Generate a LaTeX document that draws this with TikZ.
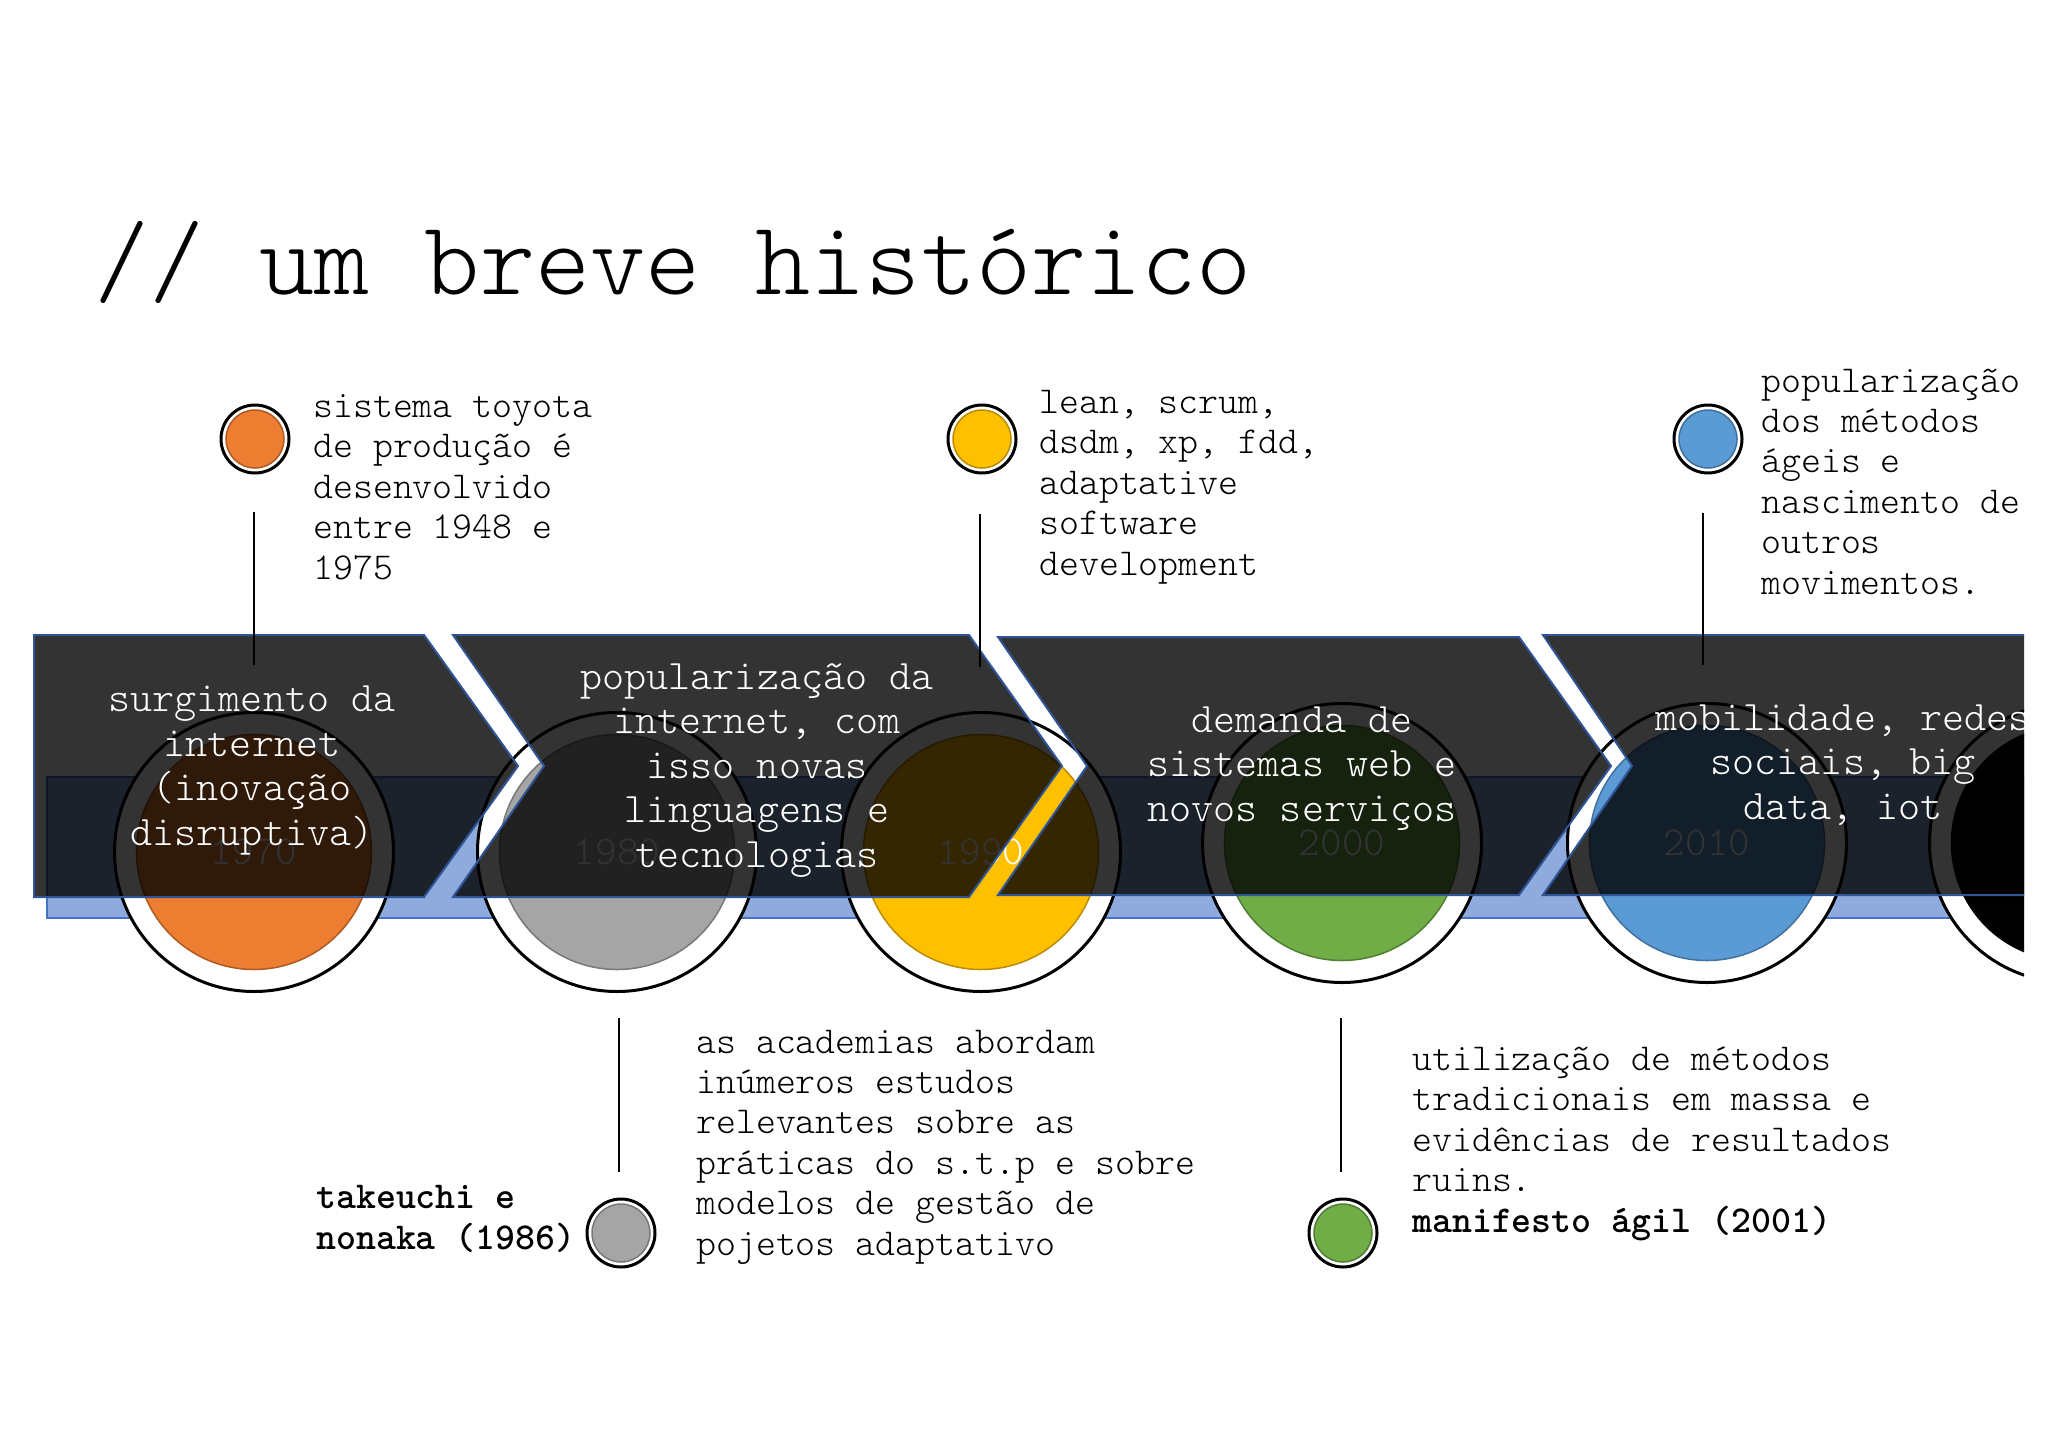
\documentclass[tikz,border=0pt]{standalone}
\usepackage{fontspec}
\newcommand{\titlefont}{\ttfamily\fontseries{l}\fontsize{105}{110}\selectfont}
\newcommand{\notefont}{\ttfamily\fontseries{l}\fontsize{38}{40.4}\selectfont}
\newcommand{\boldnotefont}{\ttfamily\bfseries\fontsize{38}{40.4}\selectfont}
\newcommand{\bannerfont}{\ttfamily\fontseries{l}\fontsize{42}{44.5}\selectfont}
\newcommand{\yearfont}{\ttfamily\fontseries{l}\fontsize{41}{44}\selectfont}
\definecolor{tOrange}{HTML}{ED7D31}\definecolor{tOrangeD}{HTML}{AE5A21}
\definecolor{tGray}{HTML}{A5A5A5}\definecolor{tGrayD}{HTML}{787878}
\definecolor{tYellow}{HTML}{FFC000}\definecolor{tYellowD}{HTML}{BC8C00}
\definecolor{tGreen}{HTML}{70AD47}\definecolor{tGreenD}{HTML}{507E32}
\definecolor{tBlue}{HTML}{5B9BD5}\definecolor{tBlueD}{HTML}{41719C}
\definecolor{bandfill}{HTML}{8FAADC}\definecolor{bandline}{HTML}{4472C4}
\definecolor{chevline}{HTML}{2F5597}
\begin{document}
\begin{tikzpicture}[x=1pt, y=-1pt,
  ring/.style={circle, draw=black, line width=3pt, fill=white, minimum size=279pt, inner sep=0pt},
  disc/.style={circle, line width=1.5pt, minimum size=235pt, inner sep=0pt, font=\yearfont, text=white},
  dotring/.style={circle, draw=black, line width=3pt, fill=white, minimum size=68pt, inner sep=0pt},
  dotfill/.style={circle, line width=1.5pt, minimum size=58pt, inner sep=0pt},
  chev/.style={fill=black, fill opacity=0.8, draw=chevline, line width=2pt},
  banner/.style={font=\bannerfont, text=white, align=center, inner sep=0pt, anchor=base},
  note/.style={font=\notefont, align=left, inner sep=0pt, anchor=base west},
  stem/.style={line width=2.5pt}]
\useasboundingbox (0,0) rectangle (2048,1448);
\fill[white] (0,0) rectangle (2048,1448);
\node[font=\titlefont, anchor=base west, inner sep=0pt] (title) at (94,294) {// um breve histórico};

\begin{scope}
\clip (0,0) rectangle (2024,1448);
\draw[fill=bandfill, draw=bandline, line width=2pt] (47,777) rectangle (2060,918);
\node[ring] (r1970) at (254,852) {};
\node[disc, fill=tOrange, draw=tOrangeD] (d1970) at (r1970) {1970};
\node[ring] (r1980) at (617,852) {};
\node[disc, fill=tGray, draw=tGrayD] (d1980) at (r1980) {1980};
\node[ring] (r1990) at (981,852) {};
\node[disc, fill=tYellow, draw=tYellowD] (d1990) at (r1990) {1990};
\node[ring] (r2000) at (1342,843) {};
\node[disc, fill=tGreen, draw=tGreenD] (d2000) at (r2000) {2000};
\node[ring] (r2010) at (1707,843) {};
\node[disc, fill=tBlue, draw=tBlueD] (d2010) at (r2010) {2010};
\node[ring] (r2020) at (2069,843) {};
\node[disc, fill=black, draw=black] (d2020) at (r2020) {};

\draw[chev] (34,635) -- (424,635) -- (518,766) -- (424,897) -- (34,897) -- cycle;
\draw[chev] (453,635) -- (969,635) -- (1062,766) -- (969,897) -- (453,897) -- (544,766) -- cycle;
\draw[chev] (998,637) -- (1519,637) -- (1611,766) -- (1519,895) -- (998,895) -- (1087,766) -- cycle;
\draw[chev] (1543,635) -- (2060,635) -- (2060,895) -- (1543,895) -- (1632,766) -- cycle;

\node[banner] (b1) at (252,845) {surgimento da\\internet\\(inovação\\disruptiva)};
\node[banner] (b2) at (757,867) {popularização da\\internet, com\\isso novas\\linguagens e\\tecnologias};
\node[banner] (b3) at (1302,821) {demanda de\\sistemas web e\\novos serviços};
\node[banner] (b4) at (1843,819) {mobilidade, redes\\sociais, big\\data, iot};
\end{scope}

\node[dotring] (o1) at (255,439) {};
\node[dotfill, fill=tOrange, draw=tOrangeD] (o1f) at (o1) {};
\coordinate (o1a) at (254,512);
\coordinate (o1b) at (254,665);
\draw[stem] (o1a) -- (o1b);
\node[note] (n1) at (313,579) {sistema toyota\\de produção é\\desenvolvido\\entre 1948 e\\1975};

\node[dotring] (o2) at (982,439) {};
\node[dotfill, fill=tYellow, draw=tYellowD] (o2f) at (o2) {};
\coordinate (o2a) at (980,514);
\coordinate (o2b) at (980,667);
\draw[stem] (o2a) -- (o2b);
\node[note] (n2) at (1039,575) {lean, scrum,\\dsdm, xp, fdd,\\adaptative\\software\\development};

\node[dotring] (o3) at (1708,439) {};
\node[dotfill, fill=tBlue, draw=tBlueD] (o3f) at (o3) {};
\coordinate (o3a) at (1703,513);
\coordinate (o3b) at (1703,665);
\draw[stem] (o3a) -- (o3b);
\node[note] (n3) at (1761,594) {popularização\\dos métodos\\ágeis e\\nascimento de\\outros\\movimentos.};

\node[dotring] (o4) at (621,1233) {};
\node[dotfill, fill=tGray, draw=tGrayD] (o4f) at (o4) {};
\coordinate (o4a) at (619,1018);
\coordinate (o4b) at (619,1172);
\draw[stem] (o4a) -- (o4b);
\node[note, font=\boldnotefont] (n4) at (316,1249) {takeuchi e\\nonaka (1986)};
\node[note] (n5) at (696,1255) {as academias abordam\\inúmeros estudos\\relevantes sobre as\\práticas do s.t.p e sobre\\modelos de gestão de\\pojetos adaptativo};

\node[dotring] (o5) at (1343,1233) {};
\node[dotfill, fill=tGreen, draw=tGreenD] (o5f) at (o5) {};
\coordinate (o5a) at (1341,1018);
\coordinate (o5b) at (1341,1172);
\draw[stem] (o5a) -- (o5b);
\node[note] (n6) at (1412,1232) {utilização de métodos\\tradicionais em massa e\\evidências de resultados\\ruins.\\{\boldnotefont manifesto ágil (2001)}};
\end{tikzpicture}
\end{document}
